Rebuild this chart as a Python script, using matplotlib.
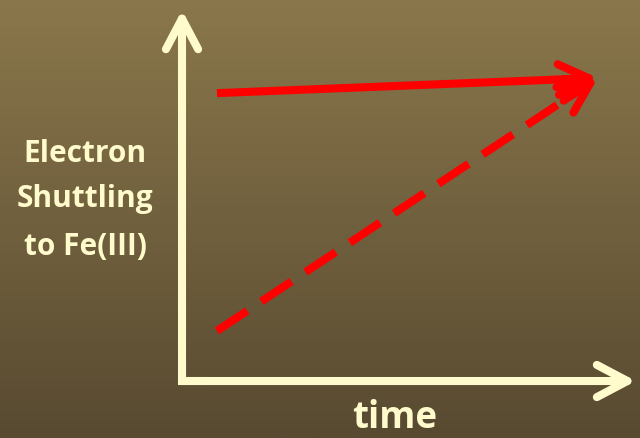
import numpy as np
import matplotlib
matplotlib.use("Agg")
import matplotlib.pyplot as plt
from matplotlib.colors import LinearSegmentedColormap

# schematic values, in axis fractions (origin = corner of the axes)
time = [0.077, 0.916]
shuttling_solid = [0.776, 0.817]
shuttling_dashed = [0.135, 0.817]

ylabel_lines = ["Electron", "Shuttling", "to Fe(III)"]
xlabel = "time"

CREAM = "#FFFBCC"
RED = "#FF0000"
BG_TOP = "#8A774B"
BG_BOTTOM = "#584A31"
FONT = "Open Sans"

fig = plt.figure(figsize=(6.4, 4.38), dpi=100)

# gradient background
bg = fig.add_axes([0, 0, 1, 1])
cmap = LinearSegmentedColormap.from_list("bg", [BG_TOP, BG_BOTTOM])
bg.imshow(np.linspace(0, 1, 256)[:, None], cmap=cmap, aspect="auto",
          extent=[0, 1, 0, 1])
bg.set_axis_off()

ax = fig.add_axes([0.2844, 0.1301, 0.7094, 0.847])
ax.set_xlim(0, 1)
ax.set_ylim(0, 1)
ax.set_axis_off()
ax.patch.set_alpha(0)

# axes with arrow heads
axis_kw = dict(arrowstyle="->,head_length=1.1,head_width=0.58", color=CREAM,
               lw=5.8, capstyle="round", joinstyle="round", mutation_scale=20,
               shrinkA=0, shrinkB=0)
ax.annotate("", xy=(0, 1), xytext=(0, 0), arrowprops=axis_kw, annotation_clip=False)
ax.annotate("", xy=(1, 0), xytext=(0, 0), arrowprops=axis_kw, annotation_clip=False)
ax.plot([0, 0, 0.05], [0.05, 0, 0], color=CREAM, lw=5.8,
        solid_joinstyle="miter", solid_capstyle="butt", clip_on=False)

# the two red arrows
head_kw = dict(arrowstyle="->,head_length=1.1,head_width=0.55", color=RED,
               lw=5.8, capstyle="round", joinstyle="round", mutation_scale=20,
               shrinkA=0, shrinkB=0)
for ys, style in ((shuttling_solid, "-"), (shuttling_dashed, (0, (4.5, 2.1)))):
    x0, x1 = time
    y0, y1 = ys
    # shaft stops inside the head so the butt end does not poke out
    xe, ye = x1 - 0.05 * (x1 - x0), y1 - 0.05 * (y1 - y0)
    xh, yh = x1 - 0.09 * (x1 - x0), y1 - 0.09 * (y1 - y0)
    ax.plot([x0, xe], [y0, ye], color=RED, lw=5.8, linestyle=style,
            solid_capstyle="butt", dash_capstyle="butt", clip_on=False)
    ax.annotate("", xy=(x1, y1), xytext=(xh, yh), arrowprops=head_kw,
                annotation_clip=False)

# labels
for line, y in zip(ylabel_lines, [0.630, 0.527, 0.418]):
    fig.text(0.133, y, line, ha="center", va="baseline", color=CREAM,
             fontsize=21.5, fontweight="bold", family=FONT)
fig.text(0.617, 0.0228, xlabel, ha="center", va="baseline", color=CREAM,
         fontsize=26.5, fontweight="bold", family=FONT)

fig.savefig("out.png", dpi=100)
